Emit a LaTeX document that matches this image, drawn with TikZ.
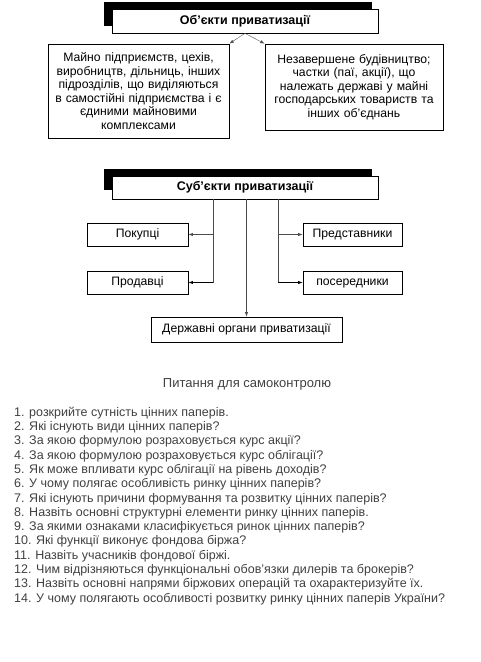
\documentclass[tikz,border=0pt]{standalone}
\usepackage{fontspec}
\setmainfont{Liberation Sans}
\usetikzlibrary{arrows.meta}
\begin{document}
\begin{tikzpicture}[x=1pt,y=-1pt,
  box/.style={draw=black,line width=0.6pt,fill=white,inner sep=1pt,font=\fontsize{12.2}{13.6}\selectfont,align=center},
  onebox/.style={box,text height=9pt,text depth=3pt,minimum height=23pt},
  titlebox/.style={box,font=\fontsize{12.5}{13.6}\selectfont\bfseries,text height=9pt,text depth=3pt},
  shadowbox/.style={fill=black},
  fine/.style={line width=0.6pt,draw=black!70,dash pattern=on 0.5pt off 0.5pt},
  solidl/.style={line width=0.6pt},
  tip/.style={-{Latex[length=4.5pt,width=3.2pt]}},
  qline/.style={anchor=west,inner sep=0pt,font=\fontsize{12.5}{13}\selectfont,text=black!75}
]
\useasboundingbox (0,0) rectangle (480,662);
% ---- objects
\fill[shadowbox] (104,2) rectangle (372,26);
\node[titlebox,minimum width=266pt,minimum height=24pt] (t1) at (245,21) {Об'єкти приватизації};
\node[box,text width=179pt,minimum width=181pt,minimum height=94pt] (left) at (138.5,91)
 {Майно підприємств, цехів,\\виробництв, дільниць, інших\\підрозділів, що виділяються\\в самостійні підприємства і є\\єдиними майновими\\комплексами};
\node[box,text width=176pt,minimum width=178pt,minimum height=86pt] (right) at (354,87)
 {Незавершене будівництво;\\частки (паї, акції), що\\належать державі у майні\\господарських товариств та\\інших об'єднань};
\draw[fine,tip] (t1.south) -- (left.north east);
\draw[fine,tip] (t1.south) -- (right.north west);
% ---- subjects
\fill[shadowbox] (104,169) rectangle (372,190);
\node[titlebox,minimum width=266pt,minimum height=23pt] (t2) at (245,187.5) {Суб'єкти приватизації};
\node[onebox,minimum width=101pt] (pok) at (137.5,234.5) {Покупці};
\node[onebox,minimum width=101pt] (prod) at (137.5,282.5) {Продавці};
\node[onebox,minimum width=99pt] (pred) at (352.5,234.5) {Представники};
\node[onebox,minimum width=99pt] (pos) at (352.5,282.5) {посередники};
\node[onebox,minimum width=191pt,minimum height=25pt] (derzh) at (246.5,329.5) {Державні органи приватизації};
\coordinate (jl) at (213,282.5);
\coordinate (jr) at (278,282.5);
\draw[fine] (t2.south -| jl) -- (jl);
\draw[fine] (t2.south -| jr) -- (jr);
\draw[fine,tip] (pok.east -| jl) -- (pok.east);
\draw[solidl,tip] (jl) -- (prod.east);
\draw[fine,tip] (pred.west -| jr) -- (pred.west);
\draw[solidl,tip] (jr) -- (pos.west);
\draw[fine,tip] (t2.south -| derzh.north) -- (derzh.north);
% ---- questions
\node[inner sep=0pt,font=\fontsize{13}{13}\selectfont,text=black!75] (qt) at (247,384) {Питання для самоконтролю};
\node[qline] (q1) at (14,413) {1. розкрийте сутність цінних паперів.};
\node[qline] (q2) at (14,427.3) {2. Які існують види цінних паперів?};
\node[qline] (q3) at (14,441.6) {3. За якою формулою розраховується курс акції?};
\node[qline] (q4) at (14,455.9) {4. За якою формулою розраховується курс облігації?};
\node[qline] (q5) at (14,470.2) {5. Як може впливати курс облігації на рівень доходів?};
\node[qline] (q6) at (14,484.5) {6. У чому полягає особливість ринку цінних паперів?};
\node[qline] (q7) at (14,498.8) {7. Які існують причини формування та розвитку цінних паперів?};
\node[qline] (q8) at (14,513.1) {8. Назвіть основні структурні елементи ринку цінних паперів.};
\node[qline] (q9) at (14,527.4) {9. За якими ознаками класифікується ринок цінних паперів?};
\node[qline] (q10) at (14,541.7) {10. Які функції виконує фондова біржа?};
\node[qline] (q11) at (14,556) {11. Назвіть учасників фондової біржі.};
\node[qline] (q12) at (14,570.3) {12. Чим відрізняються функціональні обов'язки дилерів та брокерів?};
\node[qline] (q13) at (14,584.6) {13. Назвіть основні напрями біржових операцій та охарактеризуйте їх.};
\node[qline] (q14) at (14,598.9) {14. У чому полягають особливості розвитку ринку цінних паперів України?};
\end{tikzpicture}
\end{document}
